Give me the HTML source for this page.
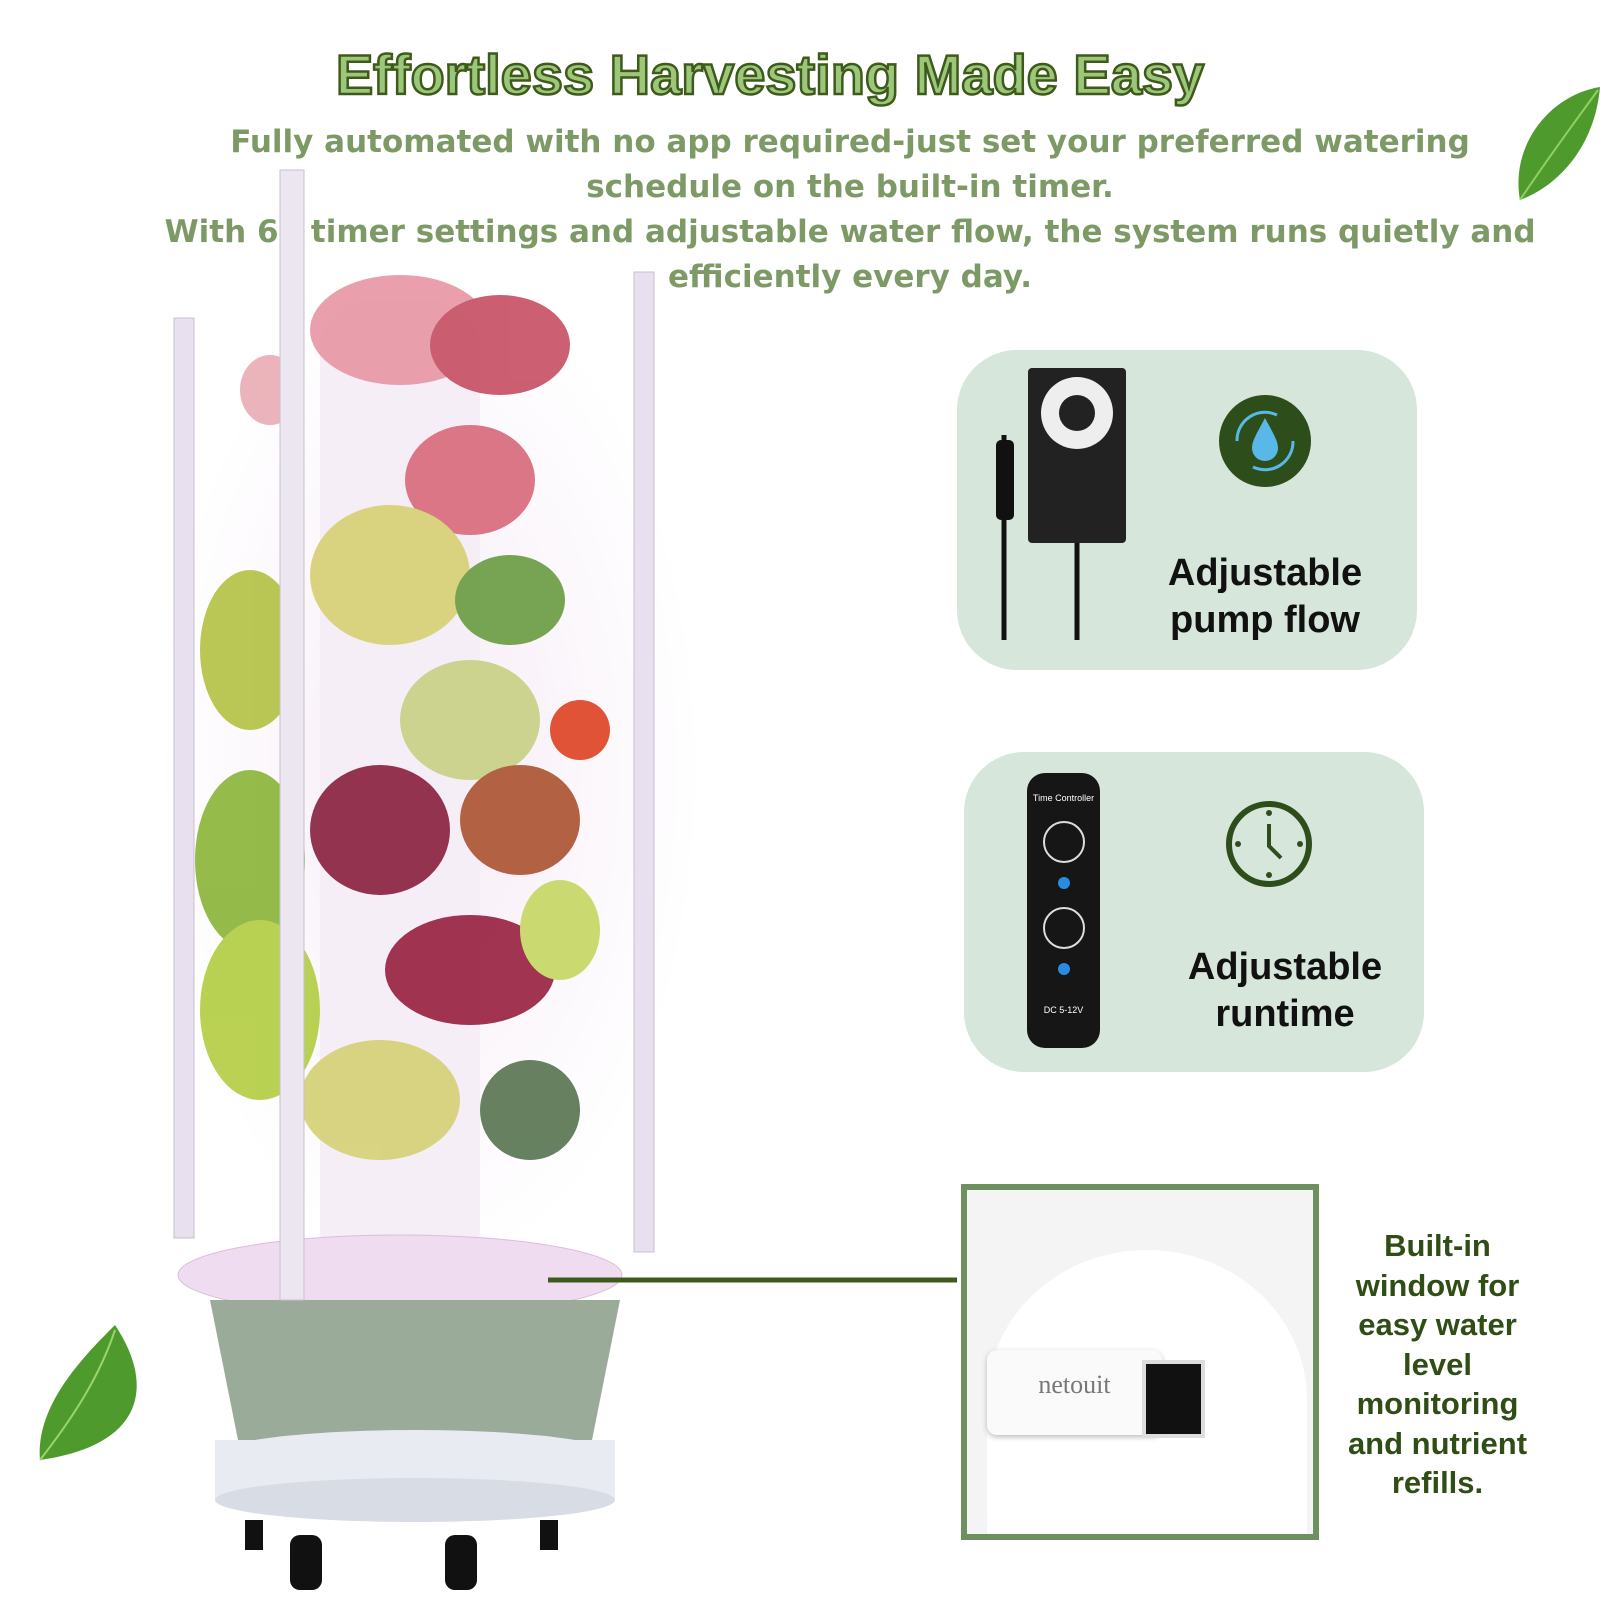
<!DOCTYPE html>
<html><head><meta charset="utf-8">
<style>
html,body{margin:0;padding:0;background:#fff;}
#c{position:relative;width:1600px;height:1600px;overflow:hidden;background:#fff;font-family:"Liberation Sans","DejaVu Sans",sans-serif;}
h1{position:absolute;left:230px;width:1080px;top:42px;margin:0;text-align:center;font-size:56px;font-weight:bold;color:#9cc77a;-webkit-text-stroke:2.5px #3e5a1a;}
.sub{position:absolute;font-family:"DejaVu Sans",sans-serif;font-size:31px;font-weight:bold;color:#7d9a66;text-align:center;line-height:45px;}
.panel{position:absolute;background:#d6e6db;border-radius:60px;}
.lbl{position:absolute;font-size:38px;font-weight:bold;color:#111;text-align:center;line-height:47px;}
.side{position:absolute;left:1320px;width:235px;top:1226px;text-align:center;font-size:31px;font-weight:bold;color:#2f4d14;line-height:39.5px;}
</style></head><body><div id="c">
<h1>Effortless Harvesting Made Easy</h1>

<svg style="position:absolute;left:0;top:0" width="960" height="1600">
 <defs><radialGradient id="g" cx="50%" cy="50%" r="50%"><stop offset="0" stop-color="#f6ecf6"/><stop offset="1" stop-color="#fff"/></radialGradient></defs>
 <rect x="160" y="270" width="540" height="1000" fill="url(#g)"/>
 <rect x="320" y="300" width="160" height="980" rx="50" fill="#f5eef6"/>
 <g opacity="0.95">
 <ellipse cx="400" cy="330" rx="90" ry="55" fill="#e89aa8"/>
 <ellipse cx="500" cy="345" rx="70" ry="50" fill="#c9566a"/>
 <ellipse cx="270" cy="390" rx="30" ry="35" fill="#eab0b8"/>
 <ellipse cx="470" cy="480" rx="65" ry="55" fill="#d97080"/>
 <ellipse cx="390" cy="575" rx="80" ry="70" fill="#d8d27a"/>
 <ellipse cx="510" cy="600" rx="55" ry="45" fill="#6fa04a"/>
 <ellipse cx="250" cy="650" rx="50" ry="80" fill="#b7c44c"/>
 <ellipse cx="470" cy="720" rx="70" ry="60" fill="#c9d28a"/>
 <ellipse cx="580" cy="730" rx="30" ry="30" fill="#e04b2c"/>
 <ellipse cx="380" cy="830" rx="70" ry="65" fill="#8e2a48"/>
 <ellipse cx="520" cy="820" rx="60" ry="55" fill="#b05a3a"/>
 <ellipse cx="250" cy="860" rx="55" ry="90" fill="#8fb840"/>
 <ellipse cx="470" cy="970" rx="85" ry="55" fill="#9c2a48"/>
 <ellipse cx="260" cy="1010" rx="60" ry="90" fill="#b6cf4a"/>
 <ellipse cx="380" cy="1100" rx="80" ry="60" fill="#d6d27a"/>
 <ellipse cx="530" cy="1110" rx="50" ry="50" fill="#5e7a58"/>
 <ellipse cx="560" cy="930" rx="40" ry="50" fill="#c9d86a"/>
 </g>
 <rect x="174" y="318" width="20" height="920" fill="#e8e0ee" stroke="#c8c0d0"/>
 <rect x="634" y="272" width="20" height="980" fill="#e8e0ee" stroke="#c8c0d0"/>
 <ellipse cx="400" cy="1275" rx="222" ry="40" fill="#f0dcf0" stroke="#d8c0d8"/>
 <path d="M210 1300 L620 1300 L590 1450 L240 1450Z" fill="#9aab9a"/>
 <ellipse cx="415" cy="1455" rx="200" ry="25" fill="#e8ecf2"/>
 <rect x="215" y="1440" width="400" height="60" fill="#e8ecf2"/>
 <ellipse cx="415" cy="1500" rx="200" ry="22" fill="#d8dce4"/>
 <rect x="245" y="1520" width="18" height="30" fill="#111"/>
 <rect x="290" y="1535" width="32" height="55" rx="10" fill="#111"/>
 <rect x="445" y="1535" width="32" height="55" rx="10" fill="#111"/>
 <rect x="540" y="1520" width="18" height="30" fill="#111"/>
 <line x1="548" y1="1280" x2="957" y2="1280" stroke="#3e5a1a" stroke-width="5"/>
</svg>

<div class="sub" style="left:100px;width:1500px;top:120px;">Fully automated with no app required-just set your preferred watering<br>schedule on the built-in timer.</div>
<div class="sub" style="left:80px;width:1540px;top:210px;">With 6 &nbsp;&nbsp;timer settings and adjustable water flow, the system runs quietly and<br>efficiently every day.</div>
<svg style="position:absolute;left:0;top:0" width="400" height="1400"><rect x="280" y="170" width="24" height="1130" fill="#ece6f0" stroke="#c8c0d0"/></svg>

<svg style="position:absolute;left:1510px;top:85px" width="90" height="120"><path d="M10 115 C0 60 40 10 90 2 C85 60 50 100 10 115Z" fill="#4f9a2c"/><path d="M10 115 C40 70 70 30 88 5" stroke="#8fd060" stroke-width="2" fill="none"/></svg>
<svg style="position:absolute;left:35px;top:1325px" width="110" height="140"><path d="M5 135 C0 80 50 30 80 0 C120 60 110 120 5 135Z" fill="#4f9a2c"/><path d="M5 135 C40 90 65 50 80 5" stroke="#9ad46a" stroke-width="2" fill="none"/></svg>

<div class="panel" style="left:957px;top:350px;width:460px;height:320px;"></div>
<svg style="position:absolute;left:990px;top:365px" width="140" height="280">
 <rect x="38" y="3" width="98" height="175" rx="4" fill="#222"/>
 <circle cx="87" cy="48" r="36" fill="#eee"/><circle cx="87" cy="48" r="18" fill="#222"/>
 <line x1="14" y1="70" x2="14" y2="275" stroke="#111" stroke-width="5"/>
 <rect x="6" y="75" width="18" height="80" rx="5" fill="#111"/>
 <line x1="87" y1="178" x2="87" y2="275" stroke="#111" stroke-width="5"/>
</svg>
<svg style="position:absolute;left:1217px;top:393px" width="96" height="96"><circle cx="48" cy="48" r="46" fill="#2d4e1a"/><path d="M48 25 C40 40 35 48 35 55 A13 13 0 0 0 61 55 C61 48 56 40 48 25Z" fill="#5ab8e8"/><path d="M20 48 A28 28 0 0 1 60 22 M76 48 A28 28 0 0 1 36 74" stroke="#5ab8e8" stroke-width="3" fill="none"/></svg>
<div class="lbl" style="left:1150px;width:230px;top:550px;">Adjustable<br>pump flow</div>

<div class="panel" style="left:964px;top:752px;width:460px;height:320px;"></div>
<div style="position:absolute;left:1027px;top:773px;width:73px;height:275px;background:#161616;border-radius:18px;color:#fff;font-size:9px;text-align:center;">
 <div style="margin-top:20px">Time Controller</div>
 <div style="width:38px;height:38px;border:2px solid #ddd;border-radius:50%;margin:18px auto 0;"></div>
 <div style="width:12px;height:12px;background:#2a8ce0;border-radius:50%;margin:14px auto 0;"></div>
 <div style="width:38px;height:38px;border:2px solid #ddd;border-radius:50%;margin:18px auto 0;"></div>
 <div style="width:12px;height:12px;background:#2a8ce0;border-radius:50%;margin:14px auto 0;"></div>
 <div style="margin-top:30px">DC 5-12V</div>
</div>
<svg style="position:absolute;left:1223px;top:798px" width="92" height="92"><circle cx="46" cy="46" r="40" fill="none" stroke="#2d4e1a" stroke-width="6"/><path d="M46 26 L46 48 L58 60" stroke="#2d4e1a" stroke-width="4" fill="none"/><circle cx="46" cy="15" r="3" fill="#2d4e1a"/><circle cx="46" cy="77" r="3" fill="#2d4e1a"/><circle cx="15" cy="46" r="3" fill="#2d4e1a"/><circle cx="77" cy="46" r="3" fill="#2d4e1a"/></svg>
<div class="lbl" style="left:1170px;width:230px;top:944px;">Adjustable<br>runtime</div>

<div style="position:absolute;left:961px;top:1184px;width:346px;height:344px;border:6px solid #6e8f5e;background:#f4f4f4;overflow:hidden;">
 <div style="position:absolute;left:20px;top:60px;width:320px;height:300px;background:#fff;border-radius:50% 50% 0 0;"></div>
 <div style="position:absolute;left:20px;top:160px;width:175px;height:85px;background:#fafafa;border-radius:10px;box-shadow:0 2px 6px #bbb;font-family:'Liberation Serif',serif;font-size:26px;color:#777;text-align:center;line-height:70px;">netouit</div>
 <div style="position:absolute;left:175px;top:170px;width:55px;height:70px;background:#111;border:4px solid #ddd;"></div>
</div>
<div class="side">Built-in<br>window for<br>easy water<br>level<br>monitoring<br>and nutrient<br>refills.</div>
</div></body></html>
